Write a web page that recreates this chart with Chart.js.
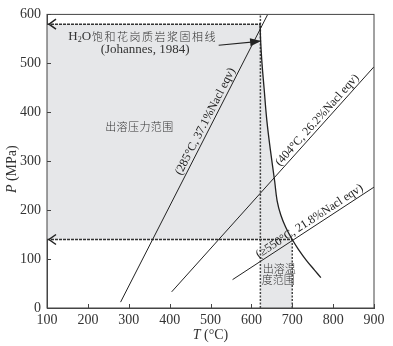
<!DOCTYPE html>
<html>
<head>
<meta charset="utf-8">
<script src="https://cdn.jsdelivr.net/npm/chart.js@4.4.0/dist/chart.umd.min.js"></script>
<style>
  html, body { margin: 0; padding: 0; background: #fff; }
  #wrap { width: 393px; height: 346px; }
</style>
</head>
<body>
<div id="wrap"><canvas id="myChart" width="393" height="346"></canvas></div>
<script>
// axis ticks
const tTicks = [100, 200, 300, 400, 500, 600, 700, 800, 900];
const pTicks = [0, 100, 200, 300, 400, 500, 600];

// H2O饱和花岗质岩浆固相线 (Johannes, 1984) : T (°C), P (MPa)
const solidusT = [621, 622, 623, 626, 631, 638, 647, 657, 663, 672, 684, 700, 715, 735, 755, 770];
const solidusP = [582, 560, 540, 500, 450, 382, 320, 259, 219, 190, 165, 140, 120, 97, 77, 62];

// isochores
const iso285T = [280, 640];
const iso285P = [12, 600];
const iso404T = [405, 900];
const iso404P = [33, 493];
const iso550T = [554, 900];
const iso550P = [58, 247];

// exsolution ranges
const exsolveT = [622, 700];   // 出溶温度范围
const exsolveP = [140, 580];   // 出溶压力范围

// annotation arrow (text -> solidus)
const arrowT = [520, 619];
const arrowP = [537, 545];

const ink = '#222';
const serif = "'Liberation Serif', 'DejaVu Serif', serif";
const cjk = "'Noto Sans CJK SC', sans-serif";

function pts(xs, ys) {
	let out = [];
	for (let i = 0; i < xs.length; i++) out.push({ x: xs[i], y: ys[i] });
	return out;
}

// upper gray region: P limit line, then solidus down to the intersection
let upperFill = [{ x: tTicks[0], y: exsolveP[1] }, { x: solidusT[0], y: exsolveP[1] }];
for (let i = 0; i < solidusT.length; i++) {
	if (solidusP[i] <= exsolveP[1] && solidusT[i] <= exsolveT[1]) upperFill.push({ x: solidusT[i], y: solidusP[i] });
}

function lineSet(data, opts) {
	return Object.assign({
		data: data,
		showLine: true,
		pointRadius: 0,
		borderColor: ink,
		borderWidth: 1,
		fill: false,
		tension: 0
	}, opts || {});
}

const datasets = [
	lineSet(pts(solidusT, solidusP), { borderWidth: 1.3, tension: 0.4 }),
	lineSet(pts(iso285T, iso285P)),
	lineSet(pts(iso404T, iso404P)),
	lineSet(pts(iso550T, iso550P)),
	lineSet(pts(arrowT, arrowP), { borderWidth: 1.2 }),
	lineSet(pts([exsolveT[0], exsolveT[0]], [0, 600]), { borderColor: '#444', borderWidth: 1.5, borderDash: [2, 1.5] }),
	lineSet(pts([exsolveT[1], exsolveT[1]], [0, exsolveP[0]]), { borderColor: '#444', borderWidth: 1.5, borderDash: [2, 1.5] }),
	lineSet(pts([tTicks[0], exsolveT[0]], [exsolveP[1], exsolveP[1]]), { borderColor: '#333', borderWidth: 1.6, borderDash: [3, 1] }),
	lineSet(pts([tTicks[0], exsolveT[1]], [exsolveP[0], exsolveP[0]]), { borderColor: '#333', borderWidth: 1.6, borderDash: [3, 1] }),
	// fills (drawn first, last in list)
	lineSet(upperFill, { borderWidth: 0, borderColor: 'rgba(0,0,0,0)', backgroundColor: '#e6e7e9', fill: { value: exsolveP[0] } }),
	lineSet(pts(exsolveT, [exsolveP[0], exsolveP[0]]), { borderWidth: 0, borderColor: 'rgba(0,0,0,0)', backgroundColor: '#e6e7e9', fill: 'origin' })
];

function px(chart, t) { return chart.scales.x.getPixelForValue(t); }
function py(chart, p) { return chart.scales.y.getPixelForValue(p); }

function drawRotated(ctx, text, x, y, angle, font) {
	ctx.save();
	ctx.translate(x, y);
	ctx.rotate(angle);
	ctx.font = font;
	ctx.textAlign = 'center';
	ctx.textBaseline = 'middle';
	ctx.fillText(text, 0, 0);
	ctx.restore();
}

// isochore label: centre on the line at (t, p), shifted to the upper-left side
function isoLabel(chart, text, xs, ys, t, p) {
	const ctx = chart.ctx;
	let x1 = px(chart, xs[0]), y1 = py(chart, ys[0]);
	let x2 = px(chart, xs[1]), y2 = py(chart, ys[1]);
	let ang = Math.atan2(y2 - y1, x2 - x1);
	let off = 6.5;
	let cx = px(chart, t) + Math.sin(ang) * off;
	let cy = py(chart, p) - Math.cos(ang) * off;
	drawRotated(ctx, text, cx, cy, ang, '12px ' + serif);
}

function cjkText(ctx, text, x, y, spacing, align) {
	ctx.save();
	ctx.font = '300 11px ' + cjk;
	ctx.fillStyle = '#333';
	ctx.letterSpacing = spacing + 'px';
	ctx.textAlign = align || 'center';
	ctx.textBaseline = 'middle';
	ctx.fillText(text, x, y);
	ctx.restore();
}

const decor = {
	id: 'decor',
	afterDatasetsDraw(chart) {
		const ctx = chart.ctx;
		const a = chart.chartArea;
		ctx.save();
		ctx.fillStyle = ink;
		ctx.strokeStyle = '#444';

		// frame
		ctx.lineWidth = 1;
		ctx.strokeRect(a.left, a.top, a.right - a.left, a.bottom - a.top);

		// inward ticks
		ctx.beginPath();
		tTicks.forEach(function(t) {
			let x = Math.round(px(chart, t)) + 0.5;
			ctx.moveTo(x, a.bottom);
			ctx.lineTo(x, a.bottom - 4);
		});
		pTicks.forEach(function(p) {
			let y = Math.round(py(chart, p)) + 0.5;
			ctx.moveTo(a.left, y);
			ctx.lineTo(a.left + 4, y);
		});
		ctx.stroke();

		// open arrow heads on the range lines
		ctx.strokeStyle = '#222';
		ctx.lineWidth = 1.5;
		[exsolveP[1], exsolveP[0]].forEach(function(p) {
			let x = px(chart, tTicks[0]) + 2, y = py(chart, p);
			ctx.beginPath();
			ctx.moveTo(x + 7, y - 5);
			ctx.lineTo(x, y);
			ctx.lineTo(x + 7, y + 5);
			ctx.stroke();
		});

		// filled arrow head to the solidus
		let ax1 = px(chart, arrowT[0]), ay1 = py(chart, arrowP[0]);
		let ax2 = px(chart, arrowT[1]), ay2 = py(chart, arrowP[1]);
		let ang = Math.atan2(ay2 - ay1, ax2 - ax1);
		ctx.save();
		ctx.translate(ax2, ay2);
		ctx.rotate(ang);
		ctx.beginPath();
		ctx.moveTo(2, 0);
		ctx.lineTo(-9, -4);
		ctx.lineTo(-9, 4);
		ctx.closePath();
		ctx.fill();
		ctx.restore();

		// solidus annotation
		let hx = px(chart, 152), hy = py(chart, 554);
		ctx.fillStyle = '#333';
		ctx.font = '13px ' + serif;
		ctx.textAlign = 'left';
		ctx.textBaseline = 'middle';
		ctx.fillText('H', hx, hy);
		hx += ctx.measureText('H').width;
		ctx.font = '8px ' + serif;
		ctx.fillText('2', hx, hy + 3);
		hx += ctx.measureText('2').width;
		ctx.font = '13px ' + serif;
		ctx.fillText('O', hx, hy);
		hx += ctx.measureText('O').width;
		cjkText(ctx, '饱和花岗质岩浆固相线', hx + 1, hy, 1.5, 'left');

		ctx.font = '13px ' + serif;
		ctx.textAlign = 'center';
		ctx.fillText('(Johannes, 1984)', px(chart, 340), py(chart, 528));

		cjkText(ctx, '出溶压力范围', px(chart, 326), py(chart, 371), 0.4);
		cjkText(ctx, '出溶温', px(chart, 668), py(chart, 81), 0);
		cjkText(ctx, '度范围', px(chart, 666), py(chart, 58), 0);

		// isochore labels
		ctx.fillStyle = ink;
		isoLabel(chart, '(285°C, 37.1%Nacl eqv)', iso285T, iso285P, 502, 375);
		isoLabel(chart, '(404°C, 26.2%Nacl eqv)', iso404T, iso404P, 773, 375);
		isoLabel(chart, '(≥550°C, 21.8%Nacl eqv)', iso550T, iso550P, 751, 166);

		// axis titles
		ctx.fillStyle = '#333';
		ctx.textBaseline = 'middle';
		let tx = px(chart, 500), ty = a.bottom + 27;
		ctx.font = 'italic 14px ' + serif;
		let w1 = ctx.measureText('T').width;
		ctx.font = '14px ' + serif;
		let w2 = ctx.measureText(' (°C)').width;
		let sx = tx - (w1 + w2) / 2;
		ctx.textAlign = 'left';
		ctx.font = 'italic 14px ' + serif;
		ctx.fillText('T', sx, ty);
		ctx.font = '14px ' + serif;
		ctx.fillText(' (°C)', sx + w1, ty);

		ctx.save();
		ctx.translate(12, py(chart, 300) + 8);
		ctx.rotate(-Math.PI / 2);
		ctx.font = 'italic 14px ' + serif;
		w1 = ctx.measureText('P').width;
		ctx.font = '14px ' + serif;
		w2 = ctx.measureText(' (MPa)').width;
		sx = -(w1 + w2) / 2;
		ctx.font = 'italic 14px ' + serif;
		ctx.fillText('P', sx, 0);
		ctx.font = '14px ' + serif;
		ctx.fillText(' (MPa)', sx + w1, 0);
		ctx.restore();

		ctx.restore();
	}
};

new Chart(document.getElementById('myChart'), {
	type: 'scatter',
	data: { datasets: datasets },
	options: {
		responsive: false,
		animation: false,
		layout: { padding: { top: 13, right: 19, left: 0, bottom: 0 } },
		plugins: {
			legend: { display: false },
			tooltip: { enabled: false }
		},
		scales: {
			x: {
				type: 'linear',
				min: 100,
				max: 900,
				afterBuildTicks: function(scale) { scale.ticks = tTicks.map(function(v) { return { value: v }; }); },
				afterFit: function(scale) { scale.height = 38; },
				grid: { display: false, drawTicks: false },
				border: { display: true, color: '#444', width: 1 },
				ticks: { color: '#333', padding: 4, font: { family: serif, size: 14 } }
			},
			y: {
				type: 'linear',
				min: 0,
				max: 600,
				afterBuildTicks: function(scale) { scale.ticks = pTicks.map(function(v) { return { value: v }; }); },
				afterFit: function(scale) { scale.width = 47; },
				grid: { display: false, drawTicks: false },
				border: { display: true, color: '#444', width: 1 },
				ticks: { color: '#333', padding: 6, font: { family: serif, size: 14 } }
			}
		}
	},
	plugins: [decor]
});
</script>
</body>
</html>
